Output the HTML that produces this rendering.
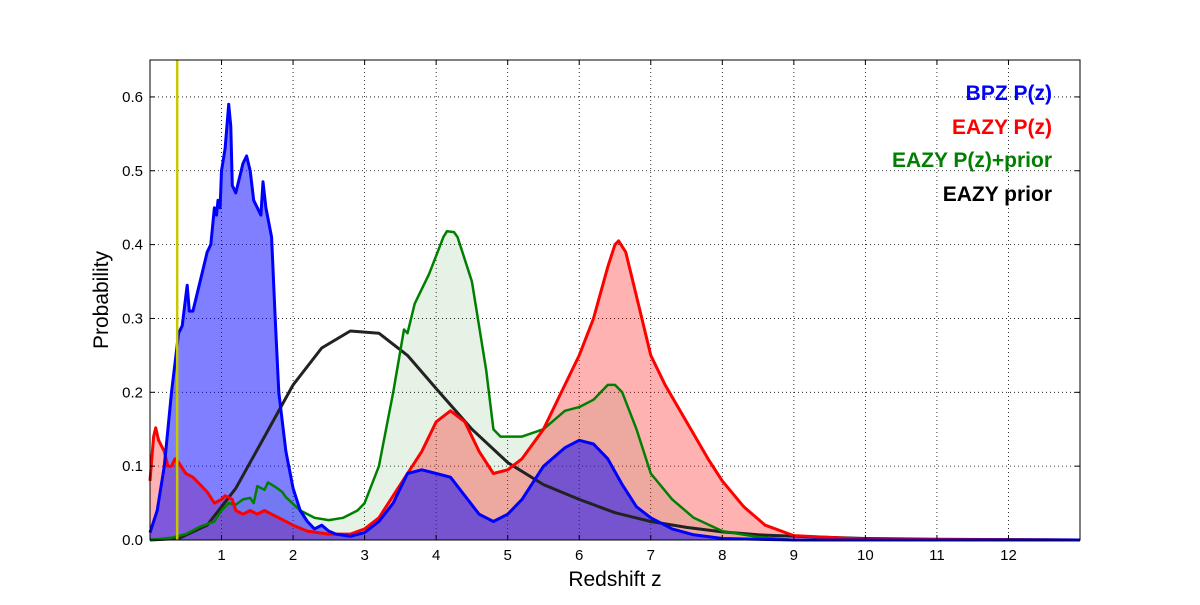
<!DOCTYPE html>
<html><head><meta charset="utf-8"><style>
body{margin:0;background:#fff;font-family:"Liberation Sans",sans-serif}
svg text{font-family:"Liberation Sans",sans-serif}
</style></head><body>
<svg id="chart" width="1200" height="600" xmlns="http://www.w3.org/2000/svg"></svg>
<script>
const xTicks=[1,2,3,4,5,6,7,8,9,10,11,12];
const yTicks=[0.0,0.1,0.2,0.3,0.4,0.5,0.6];
const bpzZ=[0,0.1,0.2,0.3,0.4,0.45,0.5,0.52,0.55,0.6,0.7,0.8,0.85,0.9,0.93,0.95,0.98,1.0,1.05,1.1,1.13,1.15,1.2,1.3,1.35,1.4,1.45,1.5,1.55,1.58,1.62,1.7,1.75,1.8,1.9,2.0,2.1,2.2,2.3,2.4,2.5,2.6,2.8,3.0,3.2,3.4,3.6,3.8,4.0,4.2,4.4,4.6,4.8,5.0,5.2,5.5,5.8,6.0,6.2,6.4,6.6,6.8,7.0,7.3,7.6,8,9,13];
const bpzP=[0.01,0.04,0.1,0.2,0.28,0.29,0.33,0.345,0.31,0.31,0.35,0.39,0.4,0.45,0.44,0.46,0.45,0.5,0.53,0.59,0.56,0.48,0.47,0.51,0.52,0.5,0.46,0.45,0.44,0.485,0.45,0.41,0.3,0.2,0.12,0.07,0.04,0.025,0.015,0.02,0.012,0.008,0.005,0.01,0.025,0.05,0.09,0.095,0.09,0.085,0.06,0.035,0.025,0.035,0.055,0.1,0.125,0.135,0.13,0.11,0.075,0.045,0.03,0.015,0.007,0.002,0,0];
const eazyZ=[0,0.05,0.08,0.12,0.2,0.25,0.3,0.35,0.4,0.5,0.6,0.7,0.8,0.9,1.0,1.05,1.15,1.2,1.3,1.4,1.5,1.6,1.7,1.8,2.0,2.2,2.5,2.8,3.0,3.2,3.4,3.6,3.8,4.0,4.2,4.4,4.6,4.8,5.0,5.2,5.5,5.8,6.0,6.2,6.4,6.5,6.55,6.65,6.8,7.0,7.2,7.5,7.8,8.0,8.3,8.6,9.0,10,13];
const eazyP=[0.08,0.14,0.152,0.135,0.12,0.1,0.1,0.11,0.105,0.09,0.085,0.075,0.065,0.05,0.055,0.06,0.055,0.04,0.035,0.04,0.035,0.04,0.035,0.03,0.02,0.012,0.008,0.008,0.015,0.03,0.06,0.09,0.12,0.16,0.175,0.16,0.12,0.09,0.095,0.11,0.15,0.21,0.25,0.3,0.37,0.4,0.405,0.39,0.33,0.25,0.21,0.16,0.11,0.08,0.045,0.02,0.006,0.001,0];
const priorPZ=[0,0.3,0.5,0.7,0.9,1.0,1.1,1.2,1.3,1.4,1.45,1.5,1.6,1.65,1.75,1.85,1.9,2.1,2.3,2.5,2.7,2.9,3.0,3.2,3.4,3.55,3.6,3.7,3.9,4.0,4.1,4.15,4.25,4.3,4.5,4.7,4.8,4.9,5.2,5.5,5.8,6.0,6.2,6.4,6.5,6.6,6.8,7.0,7.3,7.6,8.0,8.5,9,13];
const priorPP=[0,0.003,0.008,0.018,0.025,0.04,0.05,0.048,0.055,0.057,0.05,0.073,0.068,0.078,0.072,0.065,0.058,0.04,0.03,0.027,0.03,0.04,0.05,0.1,0.2,0.285,0.28,0.32,0.36,0.385,0.41,0.418,0.417,0.41,0.35,0.23,0.15,0.14,0.14,0.15,0.175,0.18,0.19,0.21,0.21,0.2,0.15,0.09,0.055,0.03,0.012,0.004,0,0];
const priorZ=[0,0.4,0.8,1.2,1.6,2.0,2.4,2.8,3.2,3.6,4.0,4.5,5.0,5.5,6.0,6.5,7.0,7.5,8.0,8.5,9,10,11,12,13];
const priorP=[0,0.002,0.02,0.07,0.14,0.21,0.26,0.283,0.28,0.25,0.205,0.15,0.105,0.075,0.055,0.037,0.025,0.017,0.011,0.007,0.005,0.002,0.001,0.0005,0];
const specZ=0.38;
const L=150,R=1080,T=60,B=540;
const X=z=>L+z/13*(R-L);
const Y=p=>B-p/0.65*(B-T);
const svg=document.getElementById('chart');
const NS='http://www.w3.org/2000/svg';
function el(tag,attrs,parent){const e=document.createElementNS(NS,tag);for(const k in attrs)e.setAttribute(k,attrs[k]);(parent||svg).appendChild(e);return e;}
const bg=el('rect',{x:L,y:T,width:R-L,height:B-T,fill:'#fff'});


// grid
xTicks.forEach(t=>{const g=el('line',{x1:X(t),x2:X(t),y1:T,y2:B,stroke:'#000','stroke-width':0.8,'stroke-dasharray':'1,3'});

});
yTicks.forEach(t=>{const g=el('line',{x1:L,x2:R,y1:Y(t),y2:Y(t),stroke:'#000','stroke-width':0.8,'stroke-dasharray':'1,3'});

});
function pts(zs,ps){return zs.map((z,i)=>X(z).toFixed(1)+','+Y(ps[i]).toFixed(1)).join(' ');}
function area(zs,ps,fill,op,name){const p=el('polygon',{points:X(zs[0])+','+Y(0)+' '+pts(zs,ps)+' '+X(zs[zs.length-1])+','+Y(0),fill:fill,'fill-opacity':op});

}
function line(zs,ps,stroke,w,name){const p=el('polyline',{points:pts(zs,ps),fill:'none',stroke:stroke,'stroke-width':w,'stroke-linejoin':'round'});

}
area(priorPZ,priorPP,'#008000',0.1,'eazy-prior-pz-area');
area(eazyZ,eazyP,'#ff0000',0.3,'eazy-pz-area');
area(bpzZ,bpzP,'#0000ff',0.5,'bpz-pz-area');
line(priorZ,priorP,'#222',3,'eazy-prior-line');
line(priorPZ,priorPP,'#008000',2.5,'eazy-prior-pz-line');
line(eazyZ,eazyP,'#ff0000',3,'eazy-pz-line');
line(bpzZ,bpzP,'#0000ff',3,'bpz-pz-line');
const v=el('line',{x1:X(specZ),x2:X(specZ),y1:T,y2:B,stroke:'#c8c800','stroke-width':2.5});


const fr=el('rect',{x:L,y:T,width:R-L,height:B-T,fill:'none',stroke:'#000','stroke-width':1});


xTicks.forEach(t=>{el('line',{x1:X(t),x2:X(t),y1:B,y2:B-5,stroke:'#000'});el('line',{x1:X(t),x2:X(t),y1:T,y2:T+5,stroke:'#000'});
const tx=el('text',{x:X(t),y:B+20,'text-anchor':'middle','font-size':15});tx.textContent=t;

});
yTicks.forEach(t=>{el('line',{x1:L,x2:L+5,y1:Y(t),y2:Y(t),stroke:'#000'});el('line',{x1:R,x2:R-5,y1:Y(t),y2:Y(t),stroke:'#000'});
const tx=el('text',{x:L-7,y:Y(t)+5,'text-anchor':'end','font-size':15});tx.textContent=t.toFixed(1);

});
const xt=el('text',{x:(L+R)/2,y:586,'text-anchor':'middle','font-size':21});xt.textContent='Redshift z';


const yt=el('text',{x:108,y:(T+B)/2,'text-anchor':'middle','font-size':21,transform:'rotate(-90 108 300)'});yt.textContent='Probability';


const legend=[['BPZ P(z)','#0000ff',100],['EAZY P(z)','#ff0000',134],['EAZY P(z)+prior','#008000',167],['EAZY prior','#000',201]];
legend.forEach(l=>{const tx=el('text',{x:1052,y:l[2],'text-anchor':'end','font-size':21,'font-weight':'bold',fill:l[1]});tx.textContent=l[0];

});
</script>
</body></html>
